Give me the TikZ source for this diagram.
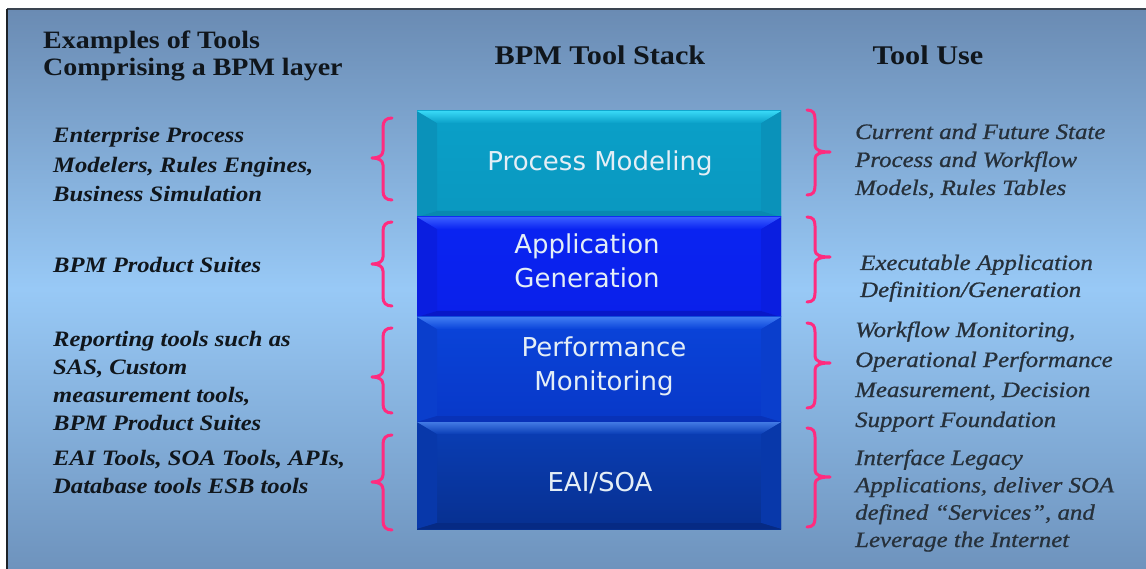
\documentclass[tikz,border=0pt]{standalone}
\usepackage{fontspec}
\setmainfont{Liberation Serif}
\newfontfamily\hdfont[FakeStretch=1.12]{Liberation Serif}
\newfontfamily\rtfont[FakeStretch=1.13,FakeBold=0.8]{Liberation Serif}
\newfontfamily\boxfont{DejaVu Sans}
\definecolor{bgtop}{HTML}{6A8BB3}
\definecolor{bgmid}{HTML}{98C9F6}
\definecolor{bgbot}{HTML}{6E93BD}
\definecolor{brc}{HTML}{FF2B7F}
\definecolor{edgetop}{HTML}{3A4450}
\definecolor{edgeleft}{HTML}{1C2228}
\definecolor{lefttxt}{HTML}{10161C}
\definecolor{righttxt}{HTML}{26303A}
\definecolor{boxtxt}{HTML}{E4EEF6}
% box 1
\definecolor{aT}{HTML}{38D8F6}\definecolor{aF}{HTML}{0AA0C8}\definecolor{aF2}{HTML}{0A98C0}\definecolor{aS}{HTML}{0A92BA}\definecolor{aB}{HTML}{0888B0}
% box 2
\definecolor{bT}{HTML}{3A5EFF}\definecolor{bF}{HTML}{0A24F2}\definecolor{bF2}{HTML}{0A20EA}\definecolor{bS}{HTML}{0A1EE0}\definecolor{bB}{HTML}{0818C8}
% box 3
\definecolor{cT}{HTML}{407CF2}\definecolor{cF}{HTML}{0A44DA}\definecolor{cF2}{HTML}{0838C8}\definecolor{cS}{HTML}{0A3ECC}\definecolor{cB}{HTML}{0832B8}
% box 4
\definecolor{dT}{HTML}{427AE4}\definecolor{dF}{HTML}{0A3EB6}\definecolor{dF2}{HTML}{073090}\definecolor{dS}{HTML}{0838AA}\definecolor{dB}{HTML}{062A84}
\newcommand\bevelbox[7]{%
  \shade[top color=#4, bottom color=#5] (417,#1) rectangle (781,#2);
  \fill[#6] (417,#1) -- (437,#1+12) -- (437,#2-6) -- (417,#2) -- cycle;
  \fill[#6] (781,#1) -- (761,#1+12) -- (761,#2-6) -- (781,#2) -- cycle;
  \fill[#7] (417,#2) -- (437,#2-6) -- (761,#2-6) -- (781,#2) -- cycle;
  \shade[top color=#3, bottom color=#4] (417,#1) -- (781,#1) -- (761,#1+12) -- (437,#1+12) -- cycle;
}
\newcommand\lbr[3]{%
  \draw[bracestyle] (392,#1) .. controls (386,#1) and (383,#1+3) .. (383,#1+9) -- (383,#3-7)
    .. controls (383,#3-2) and (378,#3) .. (372,#3)
    .. controls (378,#3) and (383,#3+2) .. (383,#3+7) -- (383,#2-9)
    .. controls (383,#2-3) and (386,#2) .. (392,#2);
}
\newcommand\rbr[3]{%
  \draw[bracestyle] (807,#1) .. controls (813,#1) and (815,#1+3) .. (815,#1+9) -- (815,#3-7)
    .. controls (815,#3-2) and (820,#3) .. (830,#3)
    .. controls (820,#3) and (815,#3+2) .. (815,#3+7) -- (815,#2-9)
    .. controls (815,#2-3) and (813,#2) .. (807,#2);
}
\begin{document}
\begin{tikzpicture}[x=1pt,y=-1pt,
  bracestyle/.style={draw=brc, line width=3pt, line cap=round, line join=round},
  header/.style={anchor=base west, inner sep=0pt, text=lefttxt, font=\hdfont\bfseries\fontsize{25}{27}\selectfont, align=left},
  lefttext/.style={anchor=base west, inner sep=0pt, text=lefttxt, align=left},
  righttext/.style={anchor=base west, inner sep=0pt, text=righttxt, align=left},
  boxlabel/.style={text=boxtxt, align=center, font=\boxfont\fontsize{26}{34}\selectfont, inner sep=0pt}]
\useasboundingbox (0,0) rectangle (1146,569);
\fill[white] (0,0) rectangle (1146,569);
\shade[top color=bgtop, bottom color=bgbot, middle color=bgmid] (7,9) rectangle (1146,569);
\draw[edgetop, line width=2.5pt] (7,9) -- (1146,9);
\draw[edgeleft, line width=2.5pt] (7,569) -- (7,9);

% headers (anchor = baseline of last line)
\node[header] (hleft) at (43,76) {Examples of Tools\\Comprising a BPM layer};
\node[header, anchor=base, font=\hdfont\bfseries\fontsize{27}{29}\selectfont] (hmid) at (600,65) {BPM Tool Stack};
\node[header, anchor=base, font=\hdfont\bfseries\fontsize{27}{29}\selectfont] (hright) at (928,65) {Tool Use};

% stack
\bevelbox{111}{217}{aT}{aF}{aF2}{aS}{aB}
\bevelbox{217}{317}{bT}{bF}{bF2}{bS}{bB}
\bevelbox{317}{422}{cT}{cF}{cF2}{cS}{cB}
\bevelbox{422}{529}{dT}{dF}{dF2}{dS}{dB}
\node[boxlabel] (pm) at (600,163) {Process Modeling};
\node[boxlabel] (ag) at (587,261) {Application\\Generation};
\node[boxlabel] (pf) at (604,366) {Performance\\Monitoring};
\node[boxlabel] (es) at (600,483) {EAI/SOA};

% braces
\lbr{118}{200}{158}
\lbr{222}{306}{264}
\lbr{328}{413}{377}
\lbr{435}{530}{482}
\rbr{110}{195}{152}
\rbr{217}{302}{257}
\rbr{323}{408}{363}
\rbr{428}{527}{477}

% left texts (anchor = baseline of last line)
\node[lefttext, font=\hdfont\bfseries\itshape\fontsize{22}{29.5}\selectfont] (l1) at (53,202) {Enterprise Process\\Modelers, Rules Engines,\\Business Simulation};
\node[lefttext, font=\hdfont\bfseries\itshape\fontsize{22}{28}\selectfont] (l2) at (53,273) {BPM Product Suites};
\node[lefttext, font=\hdfont\bfseries\itshape\fontsize{22}{27.7}\selectfont] (l3) at (53,430) {Reporting tools such as\\SAS, Custom\\measurement tools,\\BPM Product Suites};
\node[lefttext, font=\hdfont\bfseries\itshape\fontsize{22}{28}\selectfont] (l4) at (53,493) {EAI Tools, SOA Tools, APIs,\\Database tools ESB tools};

% right texts
\node[righttext, font=\rtfont\itshape\fontsize{22}{28}\selectfont] (r1) at (855,195) {Current and Future State\\Process and Workflow\\Models, Rules Tables};
\node[righttext, font=\rtfont\itshape\fontsize{22}{27}\selectfont] (r2) at (860,297) {Executable Application\\Definition/Generation};
\node[righttext, font=\rtfont\itshape\fontsize{22}{30}\selectfont] (r3) at (855,427) {Workflow Monitoring,\\Operational Performance\\Measurement, Decision\\Support Foundation};
\node[righttext, font=\rtfont\itshape\fontsize{22}{27.3}\selectfont] (r4) at (855,547) {Interface Legacy\\Applications, deliver SOA\\defined “Services”, and\\Leverage the Internet};
\end{tikzpicture}
\end{document}
